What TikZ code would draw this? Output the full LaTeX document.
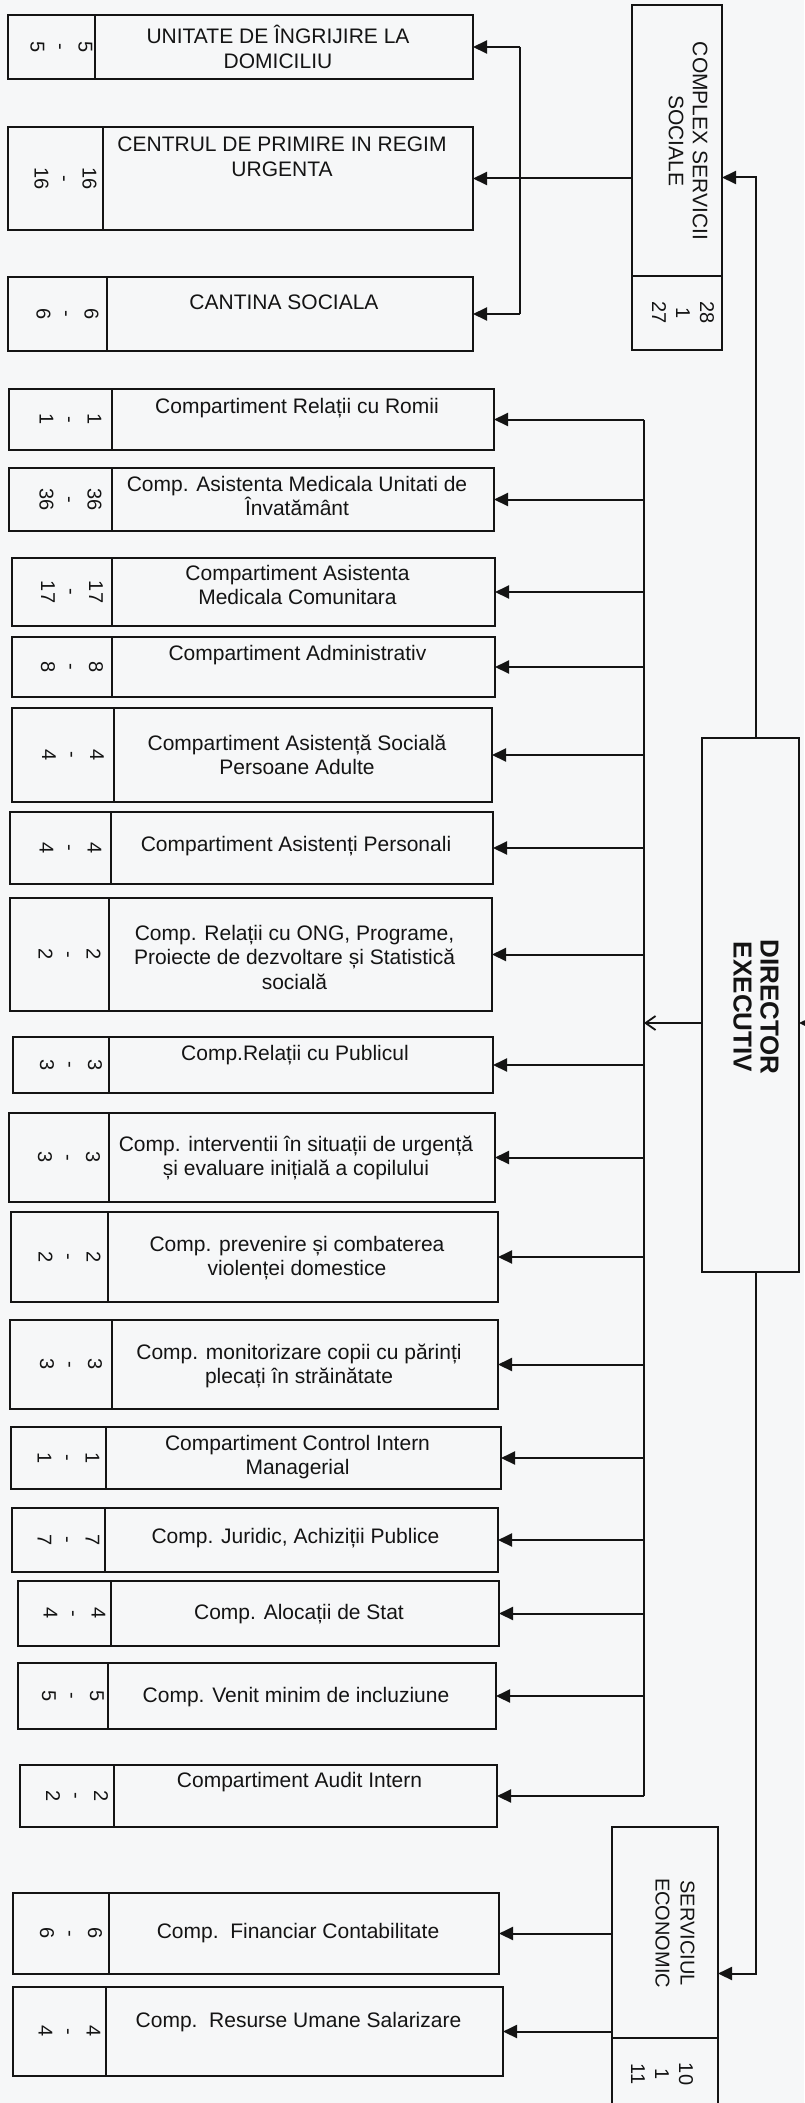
\documentclass[tikz,border=0pt]{standalone}
\usepackage{fontspec}
\setmainfont{Liberation Sans}
\usetikzlibrary{arrows.meta}
\definecolor{bgcol}{RGB}{246,247,248}
\definecolor{ink}{RGB}{20,20,20}
\tikzset{
 box/.style={draw=ink, line width=2.2pt, inner sep=0pt, outer sep=0pt},
 divline/.style={draw=ink, line width=2pt},
 conn/.style={draw=ink, line width=2pt},
 arr/.style={conn, -{Triangle[length=14pt,width=13pt]}},
 openarr/.style={conn, line width=1.8pt, -{Straight Barb[length=10pt,width=14pt]}},
 maintext/.style={font=\fontsize{21}{24.5}\selectfont, align=center, inner sep=0pt, text=ink},
 numtext/.style={font=\fontsize{20}{24}\selectfont, align=center, inner sep=0pt, rotate=-90, text=ink},
 sidetext/.style={font=\fontsize{21}{24}\selectfont, align=center, inner sep=0pt, rotate=-90, text=ink},
 dirtext/.style={font=\bfseries\fontsize{26}{27}\selectfont, align=center, inner sep=0pt, rotate=-90, text=ink},
}
% name, x1, y1, x2, y2, divider x, numbers, text, text y
\newcommand\deptbox[9]{%
 \pgfmathsetmacro\dw{#4-#2}\pgfmathsetmacro\dh{#5-#3}%
 \pgfmathsetmacro\dcx{(#2+#4)/2}\pgfmathsetmacro\dcy{(#3+#5)/2}%
 \pgfmathsetmacro\nx{(#2+#6)/2+10}\pgfmathsetmacro\tx{(#6+#4)/2-6}%
 \node[box, minimum width=\dw pt, minimum height=\dh pt] (#1) at (\dcx,\dcy) {};
 \draw[divline] (#6,#3) -- (#6,#5);
 \node[numtext] (#1-n) at (\nx,\dcy) {#7};
 \node[maintext] (#1-t) at (\tx,#9) {#8};
}
\begin{document}
\begin{tikzpicture}[x=1pt,y=-1pt]
\useasboundingbox (0,0) rectangle (804,2103);
\fill[bgcol] (0,0) rectangle (804,2103);

% top group
\deptbox{u1}{8}{15}{473}{79}{95}{5\\-\\5}{UNITATE DE ÎNGRIJIRE LA\\DOMICILIU}{47}
\deptbox{u2}{8}{127}{473}{230}{103}{16\\-\\16}{CENTRUL DE PRIMIRE IN REGIM\\URGENTA}{157}
\deptbox{u3}{8}{277}{473}{351}{107}{6\\-\\6}{CANTINA SOCIALA}{302}

% complex servicii sociale
\node[box, minimum width=90pt, minimum height=345pt] (cs) at (677,177.5) {};
\draw[divline] (632,276) -- (722,276);
\node[sidetext] (cs-t) at (688,141) {COMPLEX SERVICII\\SOCIALE};
\node[numtext] (cs-n) at (683,313) {28\\1\\27};

% main group
\deptbox{r4}{9}{389}{494}{450}{112}{1\\-\\1}{Compartiment Relații cu Romii}{408}
\deptbox{r5}{9}{468}{494}{531}{112}{36\\-\\36}{Comp. Asistenta Medicala Unitati de\\Învatământ}{496}
\deptbox{r6}{12}{558}{495}{626}{112}{17\\-\\17}{Compartiment Asistenta\\Medicala Comunitara}{585}
\deptbox{r7}{12}{637}{495}{697}{112}{8\\-\\8}{Compartiment Administrativ}{655}
\deptbox{r8}{12}{708}{492}{802}{114}{4\\-\\4}{Compartiment Asistență Socială\\Persoane Adulte}{755}
\deptbox{r9}{10}{812}{493}{884}{111}{4\\-\\4}{Compartiment Asistenți Personali}{846}
\deptbox{r10}{10}{898}{492}{1011}{109}{2\\-\\2}{Comp. Relații cu ONG, Programe,\\Proiecte de dezvoltare și Statistică\\socială}{957}
\deptbox{r11}{13}{1037}{493}{1093}{109}{3\\-\\3}{Comp.Relații cu Publicul}{1055}
\deptbox{r12}{9}{1113}{495}{1202}{109}{3\\-\\3}{Comp. interventii în situații de urgență\\și evaluare inițială a copilului}{1158}
\deptbox{r13}{11}{1212}{498}{1302}{108}{2\\-\\2}{Comp. prevenire și combaterea\\violenței domestice}{1258}
\deptbox{r14}{10}{1320}{498}{1409}{112}{3\\-\\3}{Comp. monitorizare copii cu părinți\\plecați în străinătate}{1366}
\deptbox{r15}{11}{1427}{501}{1489}{106}{1\\-\\1}{Compartiment Control Intern\\Managerial}{1457}
\deptbox{r16}{12}{1508}{498}{1572}{105}{7\\-\\7}{Comp. Juridic, Achiziții Publice}{1538}
\deptbox{r17}{18}{1581}{499}{1646}{111}{4\\-\\4}{Comp. Alocații de Stat}{1614}
\deptbox{r18}{18}{1663}{496}{1729}{108}{5\\-\\5}{Comp. Venit minim de incluziune}{1697}
\deptbox{r19}{20}{1765}{497}{1827}{114}{2\\-\\2}{Compartiment Audit Intern}{1782}

% director
\node[box, minimum width=97pt, minimum height=534pt] (dir) at (750.5,1005) {};
\node[dirtext] (dir-t) at (756,1007) {DIRECTOR\\EXECUTIV};

% serviciul economic
\node[box, minimum width=106pt, minimum height=293pt] (se) at (665,1973.5) {};
\draw[divline] (612,2038) -- (718,2038);
\node[sidetext, font=\fontsize{20}{25}\selectfont] (se-t) at (675,1933) {SERVICIUL\\ECONOMIC};
\node[numtext] (se-n) at (662,2074) {10\\1\\11};

\deptbox{f1}{13}{1893}{499}{1974}{109}{6\\-\\6}{Comp.\ \ Financiar Contabilitate}{1933}
\deptbox{f2}{13}{1987}{503}{2076}{106}{4\\-\\4}{Comp.\ \ Resurse Umane Salarizare}{2022}

% top bracket
\path (u1.east) ++(47,0) coordinate (brt);
\path (u3.east) ++(47,0) coordinate (brb);
\draw[conn] (brt) -- (brb);
\draw[arr] (brt) -- (u1.east);
\draw[arr] (brb) -- (u3.east);
\draw[arr] (cs.west |- u2.east) -- (u2.east);

% main bus
\path (r4.east) ++(150,0) coordinate (bustop);
\path (r19.east) ++(147,0) coordinate (busbot);
\draw[conn] (bustop) -- (busbot);
\foreach \n in {r4,r5,r6,r7,r8,r9,r10,r11,r12,r13,r14,r15,r16,r17,r18,r19}
  \draw[arr] (bustop |- \n.east) -- (\n.east);

% director links
\coordinate (dirw) at ([yshift=-18pt]dir.west);
\draw[openarr] (dirw) -- (dirw -| bustop);
\coordinate (dire) at ([yshift=-18pt]dir.east);
\draw[arr] ([xshift=30pt]dire) -- (dire);
\draw[arr] ([xshift=5pt]dir.north) |- (cs.east);
\draw[arr] ([xshift=5pt]dir.south) |- (se.east);

% economic links
\draw[arr] (se.west |- f1.east) -- (f1.east);
\draw[arr] (se.west |- f2.east) -- (f2.east);
\end{tikzpicture}
\end{document}
